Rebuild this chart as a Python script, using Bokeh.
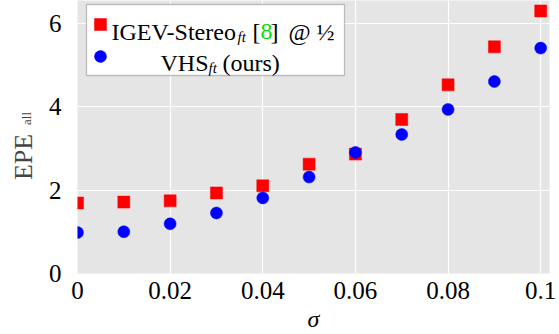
from bokeh.plotting import figure
from bokeh.models import (Range1d, FixedTicker, Legend, LegendItem, Label,
                          BoxAnnotation, CustomJSTickFormatter)
from bokeh.layouts import row
from bokeh.embed import file_html
from bokeh.resources import INLINE
import math

# ---- data ----
sigma = [0.0, 0.01, 0.02, 0.03, 0.04, 0.05, 0.06, 0.07, 0.08, 0.09, 0.10]
igev_epe = [1.69, 1.71, 1.74, 1.93, 2.10, 2.62, 2.86, 3.69, 4.52, 5.43, 6.29]
vhs_epe = [0.98, 1.00, 1.19, 1.45, 1.81, 2.31, 2.90, 3.33, 3.93, 4.60, 5.40]

x_ticks = [0.0, 0.02, 0.04, 0.06, 0.08, 0.10]
x_tick_labels = ["0", "0.02", "0.04", "0.06", "0.08", "0.1"]
y_ticks = [0, 2, 4, 6]
y_tick_labels = ["0", "2", "4", "6"]

FONT = "Liberation Serif"
LW = 45          # width of the strip holding the y-axis title
FL, FB = 75, 274  # main frame left / bottom in page px


def sx(cx):
    return cx - FL


def sy(cy):
    return FB - cy


# ---- y-axis title strip (its frame spans the same rows as the main frame) ----
lp = figure(width=LW, height=334, output_backend="svg", toolbar_location=None,
            x_range=Range1d(0, LW), y_range=Range1d(0, FB),
            x_axis_location=None, y_axis_location=None,
            min_border_left=0, min_border_right=0,
            min_border_top=0, min_border_bottom=334 - FB)
lp.grid.visible = False
lp.outline_line_color = None
lp.background_fill_color = "white"
lp.add_layout(Label(x=22.5, y=sy(157.5), x_units="screen", y_units="screen",
                    text="EPE", text_font=FONT, text_font_size="26px",
                    text_align="center", text_baseline="middle",
                    angle=math.pi / 2))
lp.add_layout(Label(x=26, y=sy(119), x_units="screen", y_units="screen",
                    text="all", text_font=FONT, text_font_size="13px",
                    text_align="center", text_baseline="middle",
                    angle=math.pi / 2))

# ---- main plot ----
p = figure(width=559 - LW, height=334, output_backend="svg",
           toolbar_location=None,
           x_range=Range1d(0, 0.1019), y_range=Range1d(0, 6.54),
           min_border_left=FL - LW, min_border_right=10, min_border_top=0,
           min_border_bottom=334 - FB)
p.background_fill_color = "#e5e5e5"
p.border_fill_color = "white"
p.outline_line_color = None

p.axis.axis_line_color = None
p.axis.major_tick_line_color = None
p.axis.minor_tick_line_color = None
p.axis.major_label_text_font = FONT
p.axis.major_label_text_font_size = "25px"
p.axis.major_label_text_color = "black"

p.xaxis.ticker = FixedTicker(ticks=x_ticks)
p.xaxis.formatter = CustomJSTickFormatter(args=dict(labels=x_tick_labels),
                                          code="return labels[index];")
p.xaxis.major_label_standoff = 2
p.yaxis.ticker = FixedTicker(ticks=y_ticks)
p.yaxis.formatter = CustomJSTickFormatter(args=dict(labels=y_tick_labels),
                                          code="return labels[index];")
p.yaxis.major_label_standoff = 10

p.xaxis.axis_label = "\u03c3"
p.xaxis.axis_label_text_font = FONT
p.xaxis.axis_label_text_font_style = "italic"
p.xaxis.axis_label_text_font_size = "24px"
p.xaxis.axis_label_text_color = "black"
p.xaxis.axis_label_standoff = 4

p.xgrid.grid_line_color = "white"
p.ygrid.grid_line_color = "white"
p.xgrid.grid_line_width = 1.2
p.ygrid.grid_line_width = 1.2

r1 = p.scatter(sigma, igev_epe, marker="square", size=12,
               fill_color="#ff0000", line_color="#ff0000", line_width=0.5)
r2 = p.scatter(sigma, vhs_epe, marker="circle", size=12,
               fill_color="#0000ff", line_color="#0000ff", line_width=0.5)

# legend frame
box = BoxAnnotation(left=sx(84), right=sx(342), top=sy(5), bottom=sy(76),
                    left_units="screen", right_units="screen",
                    top_units="screen", bottom_units="screen",
                    fill_color="white", fill_alpha=1.0,
                    line_color="#404040", line_width=1.3, level="annotation")
p.add_layout(box)

legend = Legend(items=[LegendItem(label=" ", renderers=[r1]),
                       LegendItem(label=" ", renderers=[r2])],
                location=(sx(83), sy(72)), glyph_width=30, glyph_height=30,
                padding=0, spacing=2, margin=0, label_text_font_size="1px",
                background_fill_alpha=0, border_line_alpha=0)
p.add_layout(legend, "center")


def lab(text, cx, cy, size, style="normal", color="black"):
    p.add_layout(Label(x=sx(cx), y=sy(cy), x_units="screen", y_units="screen",
                       text=text, text_font=FONT, text_font_size=size,
                       text_font_style=style, text_color=color,
                       text_baseline="alphabetic"))


lab("IGEV-Stereo", 109, 32, "24px")
lab("ft", 235, 37, "15px", style="italic")
lab("[", 250, 32, "24px")
lab("8", 258, 32, "24px", color="#00e000")
lab("]", 268, 32, "24px")
lab("@ \u00bd", 286, 32, "24px")
lab("VHS", 158, 63, "24px")
lab("ft", 206, 68, "15px", style="italic")
lab("(ours)", 220, 63, "24px")

layout = row(lp, p, spacing=0)
open("out.html", "w").write(file_html(layout, INLINE))
